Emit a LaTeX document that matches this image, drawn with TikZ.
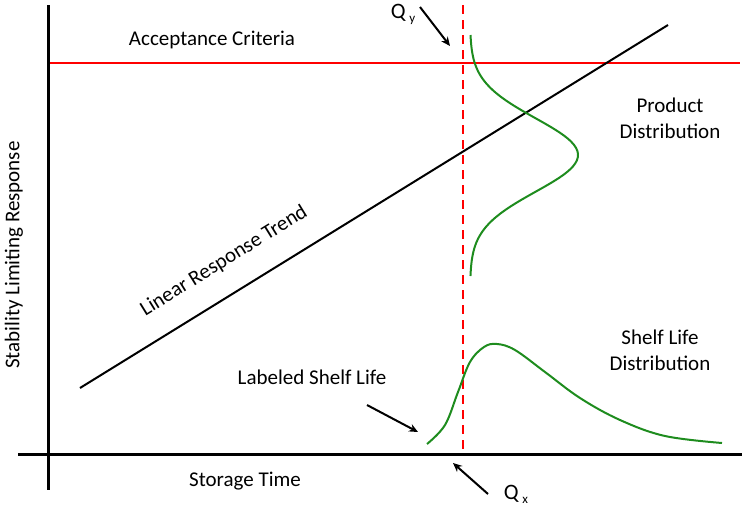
\documentclass[tikz,border=0pt]{standalone}
\usepackage{fontspec}
\setmainfont{Carlito}
\usetikzlibrary{arrows.meta}
\begin{document}
\begin{tikzpicture}[x=1pt,y=-1pt,
  lbl/.style={font=\fontsize{21}{26}\selectfont, align=center, inner sep=0},
  axis/.style={line width=3pt},
  arr/.style={line width=2pt,-{Stealth[length=9pt,width=8pt]}},
  grn/.style={draw={rgb,255:red,30;green,140;blue,30},line width=2pt}]
\useasboundingbox (0,0) rectangle (742,506);
\coordinate (ya) at (48,5); \coordinate (yb) at (48,490);
\coordinate (xa) at (18,454); \coordinate (xb) at (742,454);
\draw[axis] (ya) -- (yb);
\draw[axis] (xa) -- (xb);
\coordinate (ra) at (50,63); \coordinate (rb) at (740,63);
\draw[red,line width=2pt] (ra) -- (rb);
\coordinate (da) at (463,5); \coordinate (db) at (463,452);
\draw[red,line width=2pt,dash pattern=on 9pt off 6pt] (da) -- (db);
\coordinate (ta) at (80,388); \coordinate (tb) at (668,25);
\draw[line width=2pt] (ta) -- (tb);
\draw[grn] plot[domain=35:276,samples=80,smooth] ({470+108*exp(-((\x-155)/52)^2)},\x);
\draw[grn] plot[smooth,tension=0.6] coordinates{(427,444)(445,425)(458,392)(470,362)(484,347)(497,344)(515,350)(545,372)(580,398)(620,420)(665,436)(722,443)};
\node[lbl] (ac) at (212,40) {Acceptance Criteria};
\node[lbl] (pd) at (670,118) {Product\\Distribution};
\node[lbl,rotate=31.7] (lr) at (224,261) {Linear Response Trend};
\node[lbl,rotate=90] (sl) at (14,255) {Stability Limiting Response};
\node[lbl] (sd) at (660,350) {Shelf Life\\Distribution};
\node[lbl] (ls) at (312,377) {Labeled Shelf Life};
\node[lbl] (st) at (245,481) {Storage Time};
\node[lbl,font=\fontsize{22}{26}\selectfont] (qy) at (403,14) {Q\,{\fontsize{13}{15}\selectfont\raisebox{-4pt}{y}}};
\node[lbl,font=\fontsize{22}{26}\selectfont] (qx) at (516,494) {Q\,{\fontsize{13}{15}\selectfont\raisebox{-4pt}{x}}};
\coordinate (qya) at (420,7); \coordinate (qyb) at (450,46);
\draw[arr] (qya) -- (qyb);
\coordinate (lsa) at (367,405); \coordinate (lsb) at (418,432);
\draw[arr] (lsa) -- (lsb);
\coordinate (qxa) at (488,494); \coordinate (qxb) at (453,463);
\draw[arr] (qxa) -- (qxb);
\end{tikzpicture}
\end{document}
